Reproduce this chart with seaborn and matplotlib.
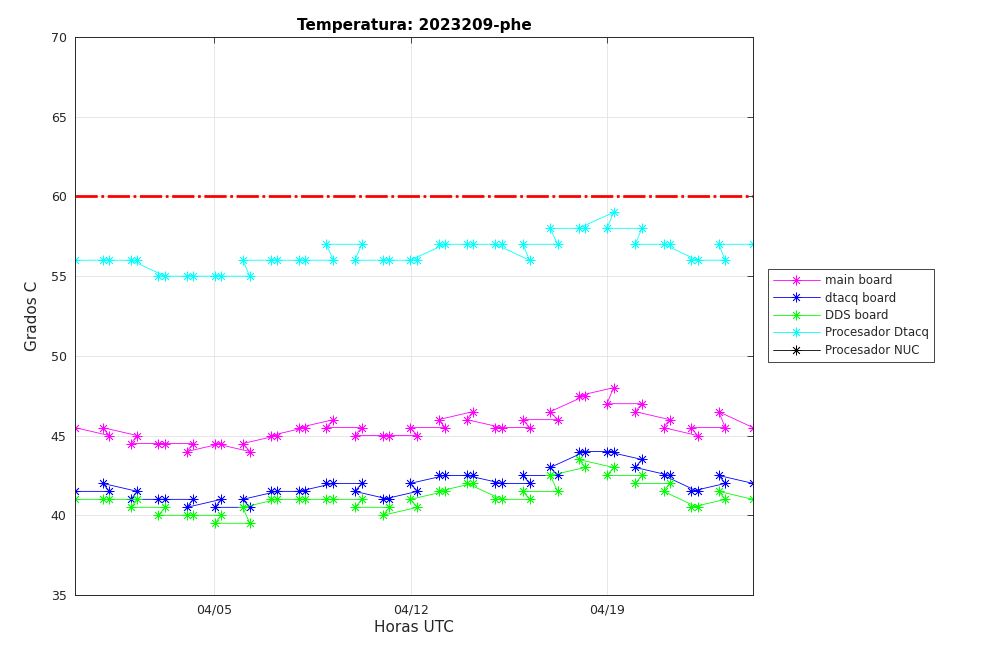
import matplotlib
matplotlib.use("Agg")
import matplotlib.pyplot as plt
import matplotlib.dates as mdates
import pandas as pd
import seaborn as sns

# Data (in logged order, not sorted by time)
times = [
    "03-31 00:45",
    "04-01 06:10", "04-01 00:30", "04-02 06:05", "04-02 00:30",
    "04-03 05:50", "04-03 00:00", "04-04 05:45", "04-04 00:25",
    "04-05 06:00", "04-05 00:20", "04-06 06:15", "04-06 00:15",
    "04-07 05:40", "04-07 00:15", "04-08 05:35", "04-08 00:15",
    "04-09 05:50", "04-08 23:35", "04-10 06:05", "04-10 00:05",
    "04-11 05:45", "04-11 00:05", "04-12 05:40", "04-11 23:25",
    "04-13 05:25", "04-12 23:40", "04-14 05:05", "04-13 23:55",
    "04-15 05:55", "04-15 00:10", "04-16 05:30", "04-15 23:55",
    "04-17 05:30", "04-16 23:15", "04-18 05:10", "04-17 23:25",
    "04-19 05:25", "04-18 23:45", "04-20 05:40", "04-20 00:00",
    "04-21 05:20", "04-21 00:10", "04-22 05:15", "04-21 23:35",
    "04-23 05:00", "04-22 23:15",
    "04-24 04:40",
]
main_board = [45.5,
              45, 45.5, 45, 44.5, 44.5, 44.5, 44.5, 44, 44.5, 44.5, 44, 44.5,
              45, 45, 45.5, 45.5, 46, 45.5, 45.5, 45, 45, 45, 45, 45.5,
              45.5, 46, 46.5, 46, 45.5, 45.5, 45.5, 46, 46, 46.5, 47.5, 47.5,
              48, 47, 47, 46.5, 46, 45.5, 45, 45.5, 45.5, 46.5,
              45.5]
dtacq_board = [41.5,
               41.5, 42, 41.5, 41, 41, 41, 41, 40.5, 41, 40.5, 40.5, 41,
               41.5, 41.5, 41.5, 41.5, 42, 42, 42, 41.5, 41, 41, 41.5, 42,
               42.5, 42.5, 42.5, 42.5, 42, 42, 42, 42.5, 42.5, 43, 44, 44,
               44, 44, 43.5, 43, 42.5, 42.5, 41.5, 41.5, 42, 42.5,
               42]
dds_board = [41,
             41, 41, 41, 40.5, 40.5, 40, 40, 40, 40, 39.5, 39.5, 40.5,
             41, 41, 41, 41, 41, 41, 41, 40.5, 40.5, 40, 40.5, 41,
             41.5, 41.5, 42, 42, 41, 41, 41, 41.5, 41.5, 42.5, 43, 43.5,
             43, 42.5, 42.5, 42, 42, 41.5, 40.5, 40.5, 41, 41.5,
             41]
proc_dtacq = [56,
              56, 56, 56, 56, 55, 55, 55, 55, 55, 55, 55, 56,
              56, 56, 56, 56, 56, 57, 57, 56, 56, 56, 56, 56,
              57, 57, 57, 57, 57, 57, 56, 57, 57, 58, 58, 58,
              59, 58, 58, 57, 57, 57, 56, 56, 56, 57,
              57]
proc_nuc = []
limit = 60

series_names = ["main board", "dtacq board", "DDS board", "Procesador Dtacq"]
series_colors = ["#FF00FF", "#0000FF", "#00FF00", "#00FFFF"]

df = pd.DataFrame({
    "time": pd.to_datetime(["2023-" + t for t in times]),
    "main board": main_board,
    "dtacq board": dtacq_board,
    "DDS board": dds_board,
    "Procesador Dtacq": proc_dtacq,
})

sns.set_style("white")
plt.rcParams["font.family"] = ["DejaVu Sans"]

fig = plt.figure(figsize=(10.08, 6.61), dpi=100)
ax = fig.add_axes([75 / 1008, 1 - 595 / 661, (753 - 75) / 1008, (595 - 37) / 661])

star = (8, 2, 0)
for name, col in zip(series_names, series_colors):
    sns.lineplot(data=df, x="time", y=name, sort=False, estimator=None, ax=ax,
                 color=col, linewidth=0.6, marker=star, markersize=7,
                 markeredgewidth=0.55, markeredgecolor=col, label=name)
ax.plot(proc_nuc, proc_nuc, color="black", linewidth=0.6, marker=star, markersize=7,
        markeredgewidth=0.55, label="Procesador NUC")

ax.axhline(limit, color="#FF0000", linewidth=2, linestyle=(0, (8, 1.3, 1, 1.3)))

ax.set_xlim(df["time"].min(), df["time"].max())
ax.set_ylim(35, 70)
ax.set_yticks(range(35, 71, 5))
ax.xaxis.set_major_locator(mdates.DayLocator(bymonthday=[5, 12, 19]))
ax.xaxis.set_major_formatter(mdates.DateFormatter("%m/%d"))

ax.grid(True, color="#e3e3e3", linewidth=0.6)
ax.tick_params(direction="in", length=4, width=0.6, top=True, right=True,
               labelsize=9, colors="#262626", pad=6)
for sp in ax.spines.values():
    sp.set_color("#262626")
    sp.set_linewidth(0.7)

ax.set_xlabel("Horas UTC", fontsize=11, color="#262626", labelpad=3)
ax.set_ylabel("Grados C", fontsize=11, color="#262626", labelpad=8)
ax.set_title("Temperatura: 2023209-phe", fontsize=11, fontweight="bold", pad=5,
             color="black")

leg = ax.legend(loc="center left", bbox_to_anchor=(768 / 1008, 1 - 315.5 / 661),
                bbox_transform=fig.transFigure, borderaxespad=0, fontsize=8.5,
                frameon=True, fancybox=False, edgecolor="#262626",
                handlelength=4.0, labelspacing=0.38, borderpad=0.4,
                handletextpad=0.45, framealpha=1)
leg.get_frame().set_linewidth(0.6)

fig.savefig("out.png", dpi=100)
